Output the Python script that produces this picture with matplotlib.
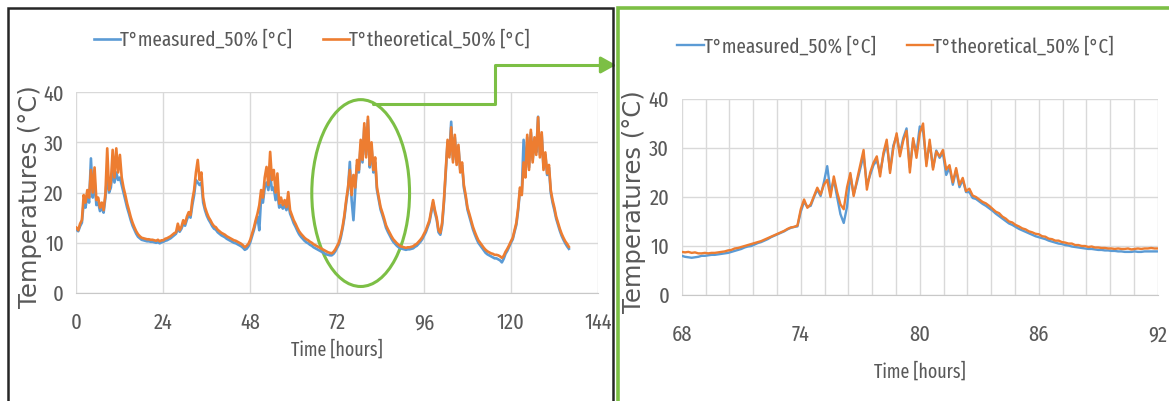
import numpy as np
import matplotlib
matplotlib.use("Agg")
import matplotlib.pyplot as plt
from matplotlib.patches import Ellipse, Rectangle, FancyArrowPatch
from matplotlib.path import Path

# full run: one reading every half hour, from hour 0
step_full = 0.5
measured_full = [
    12.6, 12.3, 13.3, 14.0, 18.0, 17.0, 19.5, 18.0, 26.8, 19.0,
    22.5, 17.5, 18.0, 16.3, 17.0, 16.0, 19.0, 24.0, 20.0, 21.0,
    24.5, 22.0, 24.0, 22.5, 23.0, 21.5, 20.0, 18.5, 17.0, 15.8,
    14.5, 13.4, 12.6, 11.8, 11.2, 10.9, 10.6, 10.5, 10.4, 10.3,
    10.3, 10.2, 10.2, 10.1, 10.0, 10.1, 9.9, 10.1, 10.2, 10.4,
    10.5, 10.7, 10.9, 11.2, 11.5, 11.8, 12.8, 12.2, 12.8, 13.8,
    13.4, 14.6, 15.5, 15.0, 17.5, 19.5, 22.5, 22.0, 21.5, 22.0,
    18.0, 16.5, 15.4, 14.6, 14.0, 13.3, 12.8, 12.6, 12.1, 11.8,
    11.5, 11.3, 11.1, 10.8, 10.6, 10.4, 10.2, 10.0, 9.9, 9.7,
    9.5, 9.3, 9.0, 8.6, 8.8, 9.3, 10.1, 11.3, 12.5, 14.0,
    15.2, 12.5, 19.0, 18.0, 21.0, 22.0, 20.5, 23.5, 20.5, 21.0,
    18.5, 20.0, 17.0, 17.5, 16.8, 17.5, 16.5, 18.0, 15.8, 14.9,
    13.9, 13.2, 12.4, 11.7, 11.2, 10.8, 10.4, 10.1, 9.9, 9.6,
    9.4, 9.1, 8.9, 8.7, 8.5, 8.3, 8.1, 7.9, 7.7, 7.6,
    7.5, 7.5, 7.8, 8.3, 9.0, 9.7, 11.0, 12.8, 15.0, 18.0,
    20.5, 26.1, 18.5, 14.5, 20.5, 25.5, 24.0, 29.5, 26.0, 33.0,
    27.5, 34.5, 25.0, 29.0, 24.0, 26.0, 20.5, 18.5, 16.6, 15.5,
    14.3, 13.0, 12.2, 11.5, 10.8, 10.2, 9.8, 9.4, 9.1, 8.9,
    8.8, 8.7, 8.6, 8.7, 8.7, 8.8, 8.9, 9.2, 9.4, 9.8,
    10.2, 10.7, 11.4, 12.1, 13.1, 14.1, 16.0, 18.0, 16.0, 14.6,
    12.1, 11.6, 13.5, 18.0, 24.0, 30.0, 27.5, 34.1, 26.5, 31.0,
    26.0, 29.0, 24.5, 25.5, 21.0, 19.0, 16.6, 15.3, 14.0, 12.7,
    11.7, 10.8, 10.0, 9.5, 9.0, 8.5, 8.0, 7.7, 7.5, 7.3,
    7.1, 6.9, 6.9, 6.7, 6.5, 6.1, 6.8, 7.8, 8.4, 9.2,
    10.0, 10.7, 12.2, 13.6, 16.5, 20.5, 20.0, 30.5, 23.5, 31.0,
    25.0, 32.0, 26.5, 30.5, 28.0, 35.1, 27.5, 31.5, 25.0, 27.5,
    23.5, 25.0, 20.0, 18.0, 16.5, 14.8, 13.6, 12.4, 11.4, 10.6,
    9.9, 9.3, 8.8,
]
theoretical_full = [
    13.0, 12.5, 13.8, 14.5, 19.5, 18.0, 20.5, 19.0, 24.5, 20.0,
    25.0, 18.5, 19.0, 17.0, 18.0, 16.5, 19.8, 28.8, 20.5, 22.0,
    28.5, 23.0, 28.8, 24.0, 27.5, 23.0, 21.0, 19.5, 17.8, 16.5,
    15.1, 14.0, 13.1, 12.3, 11.7, 11.3, 11.0, 10.9, 10.8, 10.7,
    10.7, 10.6, 10.6, 10.5, 10.4, 10.6, 10.3, 10.5, 10.5, 10.8,
    10.9, 11.1, 11.3, 11.6, 11.9, 12.1, 13.8, 12.5, 13.2, 14.5,
    13.8, 15.2, 16.1, 15.5, 18.5, 20.5, 24.0, 26.5, 22.5, 24.0,
    19.0, 17.1, 16.0, 15.1, 14.5, 13.8, 13.3, 13.1, 12.6, 12.3,
    12.0, 11.8, 11.6, 11.3, 11.1, 10.9, 10.7, 10.5, 10.4, 10.2,
    10.0, 9.8, 9.5, 9.1, 9.4, 9.8, 10.6, 11.8, 13.0, 14.5,
    15.8, 17.5, 20.5, 19.0, 23.0, 25.1, 21.5, 28.1, 22.5, 24.5,
    20.0, 23.8, 17.8, 19.0, 17.5, 18.5, 17.1, 20.1, 16.5, 15.5,
    14.5, 13.8, 13.0, 12.3, 11.8, 11.4, 11.0, 10.7, 10.5, 10.2,
    10.0, 9.7, 9.5, 9.3, 9.1, 8.9, 8.7, 8.5, 8.3, 8.1,
    8.0, 7.9, 8.2, 8.7, 9.4, 10.1, 11.5, 13.2, 15.5, 18.5,
    21.0, 24.5, 19.5, 23.5, 21.0, 26.5, 24.5, 30.5, 26.5, 33.8,
    27.0, 35.1, 25.5, 30.0, 24.5, 27.0, 21.0, 19.0, 17.1, 16.0,
    14.8, 13.5, 12.7, 12.0, 11.3, 10.7, 10.3, 9.9, 9.6, 9.3,
    9.2, 9.1, 9.0, 9.1, 9.1, 9.2, 9.3, 9.6, 9.8, 10.2,
    10.6, 11.1, 11.8, 12.5, 13.5, 14.5, 16.5, 18.5, 16.5, 15.0,
    12.5, 12.0, 14.0, 18.5, 24.5, 30.5, 27.0, 33.0, 26.0, 31.5,
    25.5, 29.5, 24.0, 26.0, 21.5, 19.5, 17.0, 15.8, 14.5, 13.2,
    12.2, 11.3, 10.5, 10.0, 9.5, 9.0, 8.6, 8.3, 8.1, 7.9,
    7.8, 7.6, 7.6, 7.5, 7.3, 7.0, 7.4, 8.2, 8.8, 9.5,
    10.3, 11.0, 12.5, 14.0, 17.0, 21.0, 19.5, 26.0, 23.0, 31.5,
    24.5, 32.5, 26.0, 31.0, 27.5, 35.0, 27.0, 32.0, 24.5, 28.0,
    23.8, 25.5, 20.5, 18.5, 17.0, 15.2, 14.0, 12.8, 11.8, 11.0,
    10.3, 9.8, 9.2,
]

# zoom on hours 68-92: one reading every 10 minutes
zoom_start = 68
step_zoom = 1 / 6
measured_zoom = [
    8.0, 7.8, 7.7, 7.6, 7.7, 7.8, 8.0, 8.0, 8.1, 8.2,
    8.2, 8.3, 8.4, 8.5, 8.6, 8.8, 9.0, 9.2, 9.4, 9.7,
    9.9, 10.0, 10.3, 10.6, 10.8, 11.1, 11.4, 11.8, 12.1, 12.4,
    12.7, 13.0, 13.4, 13.7, 13.9, 14.0, 17.0, 19.0, 18.0, 18.2,
    20.0, 21.5, 20.2, 23.0, 26.3, 21.0, 23.5, 20.0, 16.5, 14.7,
    18.0, 24.5, 20.5, 23.0, 25.8, 28.5, 22.5, 24.5, 26.5, 27.5,
    25.0, 28.5, 31.0, 25.5, 30.5, 32.5, 29.0, 32.0, 34.0, 26.0,
    31.5, 29.0, 34.4, 33.5, 27.0, 31.0, 26.0, 29.5, 28.0, 29.0,
    24.5, 26.0, 22.5, 25.5, 22.0, 23.5, 21.0, 21.0, 19.8, 19.6,
    19.1, 18.6, 18.2, 17.7, 17.2, 16.6, 16.1, 15.6, 15.1, 14.6,
    14.3, 13.9, 13.5, 13.2, 12.9, 12.6, 12.3, 12.0, 11.8, 11.6,
    11.4, 11.1, 10.9, 10.7, 10.5, 10.4, 10.2, 10.1, 9.9, 9.8,
    9.7, 9.6, 9.5, 9.4, 9.4, 9.3, 9.2, 9.2, 9.1, 9.1,
    9.0, 9.0, 8.9, 8.9, 8.8, 8.8, 8.8, 8.9, 8.8, 8.8,
    8.9, 8.9, 8.9, 8.9, 8.9,
]
theoretical_zoom = [
    8.8, 8.7, 8.8, 8.6, 8.7, 8.5, 8.5, 8.6, 8.5, 8.6,
    8.6, 8.7, 8.8, 8.9, 9.1, 9.2, 9.5, 9.6, 9.8, 10.0,
    10.2, 10.4, 10.6, 10.8, 11.0, 11.3, 11.6, 11.9, 12.2, 12.5,
    12.8, 13.1, 13.5, 13.8, 13.9, 14.2, 17.5, 19.5, 17.8, 18.5,
    20.2, 21.9, 20.5, 22.5, 23.5, 20.0, 24.2, 21.0, 18.5, 17.5,
    22.0, 24.9, 20.2, 23.5, 26.5, 29.6, 21.5, 25.0, 27.0, 28.3,
    24.2, 29.0, 31.7, 24.9, 30.0, 33.0, 28.3, 31.5, 33.5, 25.0,
    32.0, 28.0, 33.0, 35.0, 26.3, 31.7, 25.6, 29.3, 28.3, 29.6,
    25.6, 26.5, 23.0, 25.9, 22.5, 23.9, 21.2, 21.7, 20.3, 20.0,
    19.5, 19.0, 18.7, 18.2, 17.6, 17.0, 16.7, 16.0, 15.6, 15.0,
    14.8, 14.3, 14.0, 13.6, 13.4, 13.0, 12.8, 12.5, 12.4, 12.0,
    11.9, 11.5, 11.4, 11.1, 11.1, 10.8, 10.7, 10.5, 10.5, 10.2,
    10.2, 10.0, 10.0, 9.8, 9.9, 9.7, 9.7, 9.6, 9.6, 9.5,
    9.5, 9.4, 9.5, 9.4, 9.4, 9.5, 9.3, 9.4, 9.5, 9.4,
    9.5, 9.5, 9.6, 9.5, 9.5,
]

labels = ["T°measured_50% [°C]", "T°theoretical_50% [°C]"]
c_meas = "#5B9BD5"
c_theo = "#ED7D31"
green = "#7CBF45"
txt = "#595959"

plt.rcParams["font.family"] = ["Fira Sans Extra Condensed", "DejaVu Sans"]

fig = plt.figure(figsize=(11.69, 4.01), dpi=100)
fig.patch.set_facecolor("white")

ax1 = fig.add_axes([0.0654, 0.2693, 0.446, 0.501])
ax2 = fig.add_axes([0.5832, 0.2643, 0.4072, 0.4888])

t_full = np.arange(len(measured_full)) * step_full
t_zoom = zoom_start + np.arange(len(measured_zoom)) * step_zoom

ax1.plot(t_full, measured_full, color=c_meas, lw=1.9, label=labels[0])
ax1.plot(t_full, theoretical_full, color=c_theo, lw=1.9, label=labels[1])
ax2.plot(t_zoom, measured_zoom, color=c_meas, lw=1.7, label=labels[0])
ax2.plot(t_zoom, theoretical_zoom, color=c_theo, lw=1.7, label=labels[1])

ax1.set_xlim(0, 144)
ax1.set_xticks([0, 24, 48, 72, 96, 120, 144])
ax2.set_xlim(68, 92)
ax2.set_xticks([68, 74, 80, 86, 92])
ax2.set_xticks(np.arange(68, 92.01, 1.2), minor=True)

for ax, xpad, ylab_pos, xlab_pos in [(ax1, 14, (-0.089, 0.478), (0.5, -0.284)),
                                     (ax2, 21, (-0.100, 0.474), (0.5, -0.393))]:
    ax.set_ylim(0, 40)
    ax.set_yticks([0, 10, 20, 30, 40])
    ax.grid(True, which="both", color="#D9D9D9", lw=1.0)
    ax.set_axisbelow(True)
    for s in ["top", "right", "left"]:
        ax.spines[s].set_visible(False)
    ax.spines["bottom"].set_color("#C8C8C8")
    ax.tick_params(which="both", length=0, labelsize=16, colors=txt)
    ax.tick_params(axis="x", pad=xpad)
    ax.tick_params(axis="y", pad=9)
    ax.set_ylabel("Temperatures (°C)", family=["DejaVu Sans"], fontsize=17.5, color=txt)
    ax.yaxis.set_label_coords(*ylab_pos)
    ax.yaxis.label.set_va("center")
    ax.set_xlabel("Time [hours]", fontsize=14, color=txt)
    ax.xaxis.set_label_coords(*xlab_pos)
    ax.xaxis.label.set_va("center")

leg_kw = dict(loc="center", ncol=2, frameon=False, fontsize=15, handlelength=1.25,
              handletextpad=0.0, columnspacing=1.5, labelcolor=txt,
              bbox_transform=fig.transFigure)
ax1.legend(bbox_to_anchor=(0.267, 0.90), **leg_kw)
ax2.legend(bbox_to_anchor=(0.766, 0.883), **leg_kw)

# circled peak and arrow to the zoom panel
ax1.add_patch(Ellipse((78.5, 19.9), 27, 37.2, fill=False, ec=green, lw=2.2, clip_on=False))

W, H = 1169, 401
pts = [(373, 104), (495, 104), (495, 65), (616, 65)]
verts = [(x / W, 1 - y / H) for x, y in pts]
arrow = FancyArrowPatch(path=Path(verts), arrowstyle="-|>,head_length=0.45,head_width=0.25",
                        mutation_scale=20, color=green, lw=2.2,
                        transform=fig.transFigure, shrinkA=0, shrinkB=0)
fig.add_artist(arrow)

# panel frames
fig.add_artist(Rectangle((8 / W, -0.05), (613 - 8) / W, 1 - 8 / H + 0.05,
                         transform=fig.transFigure, fill=False, ec="#262626", lw=1.8))
fig.add_artist(Rectangle((618 / W, -0.05), 0.5, 1 - 8 / H + 0.05,
                         transform=fig.transFigure, fill=False, ec=green, lw=2.6))

fig.savefig("out.png", dpi=100, facecolor="white")
